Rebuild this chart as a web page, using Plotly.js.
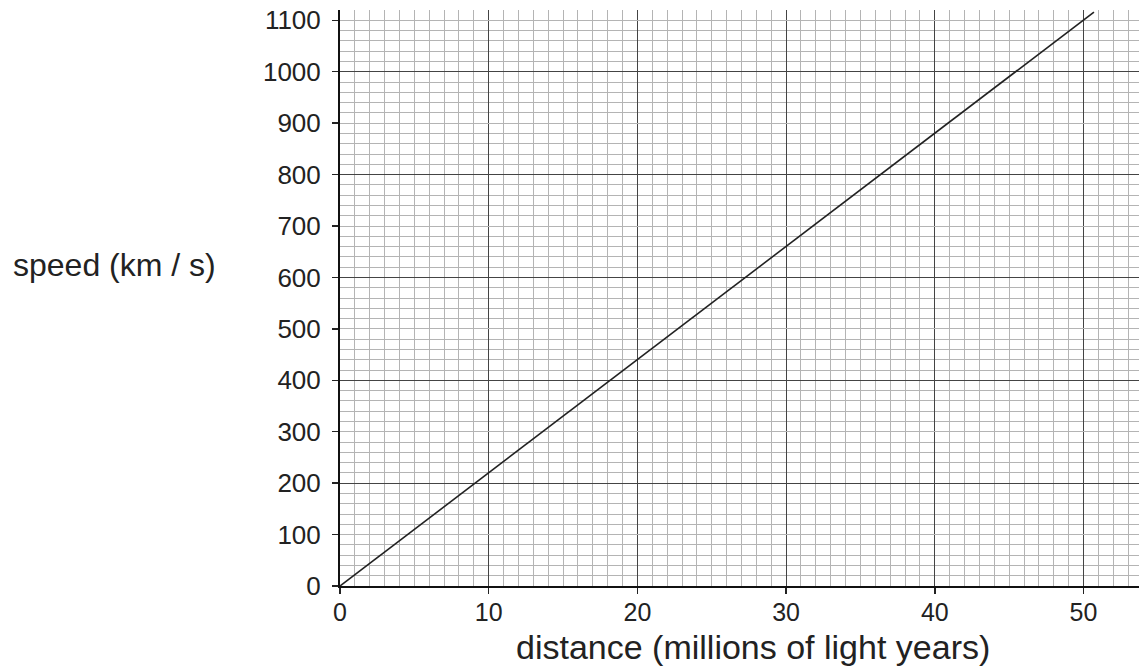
<!DOCTYPE html>
<html>
<head>
<meta charset="utf-8">
<script src="https://cdn.plot.ly/plotly-3.0.1.min.js"></script>
<style>html,body{margin:0;padding:0;background:#fff;}#chart{width:1139px;height:668px;}</style>
</head>
<body>
<div id="chart"></div>
<script>
// Data
const distance = [0, 50.7];          // millions of light years
const speed = [0, 1116];             // km/s
const xTickVals = [0, 10, 20, 30, 40, 50];
const xTickText = ['0', '10', '20', '30', '40', '50'];
const yTickVals = [0, 100, 200, 300, 400, 500, 600, 700, 800, 900, 1000, 1100];
const yTickText = ['0', '100', '200', '300', '400', '500', '600', '700', '800', '900', '1000', '1100'];
const xLabel = 'distance (millions of light years)';
const yLabel = 'speed (km / s)';

const font = 'Liberation Sans, Arial, sans-serif';
const minorGrid = '#b4b4b4';
const majorGrid = '#444444';
const xRange = [0, 53.73];
const yRange = [0, 1120];

const traces = [
  {x: distance, y: speed, type: 'scatter', mode: 'lines',
   line: {color: '#222', width: 1.6}, hoverinfo: 'skip', showlegend: false},
  {x: [0], y: [0], xaxis: 'x2', yaxis: 'y2', type: 'scatter', mode: 'markers',
   marker: {opacity: 0}, hoverinfo: 'skip', showlegend: false}
];

const layout = {
  width: 1139, height: 668,
  margin: {l: 339.5, r: 0, t: 10, b: 82},
  paper_bgcolor: '#fff', plot_bgcolor: '#fff',
  font: {family: font, color: '#222'},
  xaxis: {
    range: xRange, tickmode: 'array', tickvals: xTickVals, ticktext: xTickText,
    ticks: 'outside', ticklen: 6, tickwidth: 1.5, tickcolor: '#222',
    tickfont: {family: font, size: 25, color: '#222'},
    ticklabelstandoff: -3,
    showgrid: true, gridcolor: majorGrid, gridwidth: 1,
    minor: {dtick: 1, showgrid: true, gridcolor: minorGrid, gridwidth: 1, ticks: ''},
    showline: true, linecolor: '#111', linewidth: 2, zeroline: false, mirror: false,
    fixedrange: true
  },
  yaxis: {
    range: yRange, tickmode: 'array', tickvals: yTickVals, ticktext: yTickText,
    ticks: 'outside', ticklen: 6, tickwidth: 1.5, tickcolor: '#222',
    tickfont: {family: font, size: 26, color: '#222'},
    showgrid: true, gridcolor: minorGrid, gridwidth: 1,
    minor: {dtick: 20, showgrid: true, gridcolor: minorGrid, gridwidth: 1, ticks: ''},
    showline: true, linecolor: '#111', linewidth: 2, zeroline: false, mirror: false,
    ticklabelstandoff: 6,
    fixedrange: true
  },
  xaxis2: {overlaying: 'x', range: xRange, showgrid: false, showticklabels: false,
           ticks: '', zeroline: false, showline: false, fixedrange: true},
  yaxis2: {overlaying: 'y', range: yRange, dtick: 200, showgrid: true, gridcolor: majorGrid,
           gridwidth: 1, showticklabels: false, ticks: '', zeroline: false, showline: false,
           fixedrange: true},
  annotations: [
    {text: xLabel, xref: 'paper', yref: 'paper', x: 0.517, y: -0.07,
     xanchor: 'center', yanchor: 'top', showarrow: false,
     font: {family: font, size: 34, color: '#222'}},
    {text: yLabel, xref: 'paper', yref: 'paper', x: -0.282, y: 0.557,
     xanchor: 'center', yanchor: 'middle', showarrow: false,
     font: {family: font, size: 32, color: '#222'}}
  ]
};

Plotly.newPlot('chart', traces, layout, {displayModeBar: false, staticPlot: true});
</script>
</body>
</html>
